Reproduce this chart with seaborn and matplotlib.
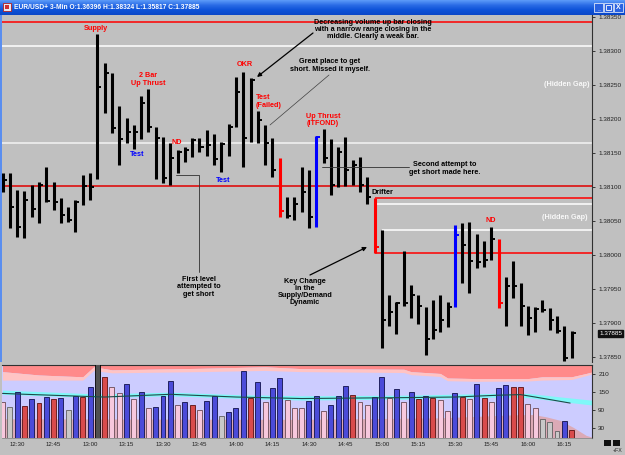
import numpy as np
import pandas as pd
import seaborn as sns
import matplotlib.pyplot as plt
from matplotlib.lines import Line2D
from matplotlib.patches import Rectangle
from matplotlib.colors import LinearSegmentedColormap
from matplotlib.transforms import blended_transform_factory

W, H = 625, 455

# 3-min EUR/USD bars
highs = [1.38121, 1.38121, 1.38096, 1.38094, 1.38103, 1.38107, 1.38129, 1.38107, 1.38084, 1.38071,
         1.38081, 1.38118, 1.38121, 1.38325, 1.38282, 1.38268, 1.38219, 1.38201, 1.38191, 1.38234,
         1.38244, 1.38188, 1.38174, 1.38165, 1.38154, 1.38159, 1.38172, 1.38172, 1.38184, 1.38178,
         1.38166, 1.38193, 1.38262, 1.38269, 1.38260, 1.38212, 1.38191, 1.38172, 1.38143, 1.38085,
         1.38085, 1.38129, 1.38125, 1.38175, 1.38185, 1.38171, 1.38159, 1.38174, 1.38140, 1.38144,
         1.38115, 1.38084, 1.38037, 1.37941, 1.37931, 1.38006, 1.37956, 1.37941, 1.37924, 1.37934,
         1.37941, 1.37931, 1.38044, 1.38047, 1.38049, 1.38031, 1.38021, 1.38041, 1.38024, 1.37968,
         1.37991, 1.37959, 1.37925, 1.37924, 1.37934, 1.37922, 1.37910, 1.37896, 1.37888]
lows = [1.38093, 1.38040, 1.38026, 1.38025, 1.38056, 1.38047, 1.38078, 1.38066, 1.38047, 1.38049,
        1.38034, 1.38074, 1.38081, 1.38112, 1.38209, 1.38179, 1.38132, 1.38165, 1.38156, 1.38171,
        1.38181, 1.38112, 1.38106, 1.38103, 1.38121, 1.38137, 1.38144, 1.38151, 1.38146, 1.38132,
        1.38122, 1.38146, 1.38188, 1.38129, 1.38166, 1.38165, 1.38132, 1.38115, 1.38056, 1.38054,
        1.38051, 1.38063, 1.38040, 1.38041, 1.38135, 1.38088, 1.38100, 1.38101, 1.38103, 1.38093,
        1.38075, 1.38003, 1.37863, 1.37896, 1.37884, 1.37926, 1.37907, 1.37899, 1.37853, 1.37877,
        1.37887, 1.37894, 1.37924, 1.37959, 1.37944, 1.37981, 1.37983, 1.37993, 1.37922, 1.37896,
        1.37937, 1.37896, 1.37882, 1.37887, 1.37916, 1.37890, 1.37885, 1.37844, 1.37849]
closes = [1.38110, 1.38071, 1.38041, 1.38081, 1.38068, 1.38103, 1.38079, 1.38078, 1.38059, 1.38051,
          1.38078, 1.38101, 1.38100, 1.38247, 1.38268, 1.38187, 1.38171, 1.38181, 1.38181, 1.38224,
          1.38188, 1.38172, 1.38113, 1.38143, 1.38151, 1.38154, 1.38169, 1.38159, 1.38162, 1.38141,
          1.38163, 1.38188, 1.38240, 1.38172, 1.38257, 1.38198, 1.38165, 1.38125, 1.38065, 1.38057,
          1.38075, 1.38093, 1.38056, 1.38174, 1.38143, 1.38103, 1.38151, 1.38125, 1.38132, 1.38103,
          1.38085, 1.38012, 1.37904, 1.37916, 1.37929, 1.37929, 1.37941, 1.37926, 1.37877, 1.37890,
          1.37904, 1.37924, 1.38029, 1.38015, 1.37991, 1.37990, 1.37993, 1.38024, 1.37929, 1.37954,
          1.37954, 1.37926, 1.37907, 1.37921, 1.37919, 1.37904, 1.37888, 1.37849, 1.37885]
red_bars = [38, 51, 68]
blue_bars = [43, 62]

volume = [117, 101, 149, 104, 126, 114, 133, 128, 130, 90,
          137, 134, 168, 245, 200, 168, 148, 176, 126, 151,
          99, 102, 138, 188, 106, 119, 109, 92, 122, 137,
          70, 83, 99, 220, 131, 184, 119, 165, 198, 124,
          97, 97, 121, 137, 87, 107, 139, 169, 140, 118,
          106, 135, 200, 132, 159, 118, 151, 128, 138, 130,
          124, 87, 148, 133, 128, 176, 130, 118, 165, 174,
          168, 168, 111, 99, 61, 51, 20, 56, 24]
# u = up (blue), d = down (red), p = weak (pink), n = neutral (grey), x = climax
vol_kind = ["p", "n", "u", "d", "u", "d", "u", "d", "u", "n",
            "u", "d", "u", "x", "d", "p", "p", "u", "p", "u",
            "p", "u", "u", "u", "p", "u", "d", "p", "u", "u",
            "n", "u", "u", "u", "d", "u", "p", "u", "u", "p",
            "p", "p", "u", "u", "p", "u", "u", "u", "d", "p",
            "p", "u", "u", "p", "u", "p", "u", "d", "u", "d",
            "p", "p", "u", "d", "p", "u", "d", "p", "u", "u",
            "d", "d", "p", "p", "n", "n", "n", "u", "d"]

# volume panel envelopes (bar index, value)
env_x = [0, 5, 11, 12.5, 15, 27, 36, 41, 55, 56, 60, 61, 65, 72, 74, 78, 80, 81]
env_red = [218, 207, 201, 234, 224, 229, 234, 228, 226, 218, 212, 197, 195, 195, 201, 201, 212, 218]
env_pink = [190, 190, 190, 222, 214, 218, 222, 218, 215, 208, 202, 188, 186, 187, 190, 192, 205, 212]
cyan_x = [0, 13, 23, 32, 41, 55, 68, 72, 77, 81]
cyan_lo = [143, 132, 138, 130, 124, 127, 134, 132, 118, 107]
cyan_hi = [157, 144, 150, 142, 138, 140, 146, 146, 133, 123]
ma_x = [0, 2, 9, 14, 23, 32, 41, 55, 62, 68, 71, 73, 77.8]
ma_vals = [146, 144, 138, 134, 143, 134, 129, 132, 134, 140, 142, 134, 114]
low_x = [0, 40, 60, 70, 72.8, 74.6, 76.4, 78.2, 80, 81]
low_top = [62, 60, 65, 75, 76, 68, 57, 34, 7, 0]

full_levels = [1.38343, 1.38307, 1.38165, 1.38101]
full_level_colors = ["#ff0000", "#ffffff", "#f4f4f4", "#e00000"]
gap_levels = [1.38084, 1.38075, 1.38037, 1.38003]
gap_starts = [51, 51, 52, 51]
gap_colors = ["#ff0000", "#ffffff", "#ffffff", "#ff0000"]

price_ticks = [1.37850, 1.37900, 1.37950, 1.38000, 1.38050, 1.38100,
               1.38150, 1.38200, 1.38250, 1.38300, 1.38350]
vol_ticks = [30, 90, 150, 210]
time_labels = ["12:30", "12:45", "13:00", "13:15", "13:30", "13:45", "14:00", "14:15",
               "14:30", "14:45", "15:00", "15:15", "15:30", "15:45", "16:00", "16:15"]

TITLE = "EUR/USD+ 3-Min O:1.36396 H:1.38324 L:1.35817 C:1.37885"

sns.set_style("white")
plt.rcParams["font.family"] = ["Liberation Sans", "DejaVu Sans"]

n = len(highs)
idx = np.arange(n)
times = pd.date_range("2010-01-04 12:24", periods=n, freq="3min").strftime("%H:%M")
XL = (-0.07, 80.8)
BG = "#c0c0c0"


def box(x0, y0, x1, y1):
    return [x0 / W, 1 - y1 / H, (x1 - x0) / W, (y1 - y0) / H]


def P(x, y):
    return (x / W, 1 - y / H)


fig = plt.figure(figsize=(W / 100, H / 100), dpi=100)
fig.patch.set_facecolor(BG)

# ---- price panel ----
ax = fig.add_axes(box(2, 15, 592, 362))
ax.set_facecolor(BG)
ax.set_xlim(*XL)
ax.set_ylim(1.37843, 1.38353)

ax.hlines(full_levels, XL[0], XL[1], colors=full_level_colors, lw=1.1, zorder=1)
ax.hlines(gap_levels, gap_starts, XL[1], colors=gap_colors, lw=1.1, zorder=1)

bar_cols = ["#000000"] * n
for i in red_bars:
    bar_cols[i] = "#ff0000"
for i in blue_bars:
    bar_cols[i] = "#0000ff"
ax.vlines(idx, lows, highs, colors=bar_cols, lw=2.2, zorder=3)
ax.hlines(closes, idx, idx + 0.55, colors=bar_cols, lw=1.4, zorder=3)

ax.yaxis.tick_right()
ax.set_yticks(price_ticks)
ax.set_yticklabels([f"{p:.5f}" for p in price_ticks])
ax.tick_params(axis="y", labelsize=4.6, length=2.5, width=0.6, pad=2, colors="#202020")
ax.tick_params(axis="x", bottom=False, labelbottom=False)
for s in ["top", "left", "bottom"]:
    ax.spines[s].set_visible(False)
ax.spines["right"].set_color("#303030")
ax.spines["right"].set_linewidth(0.8)

tr = blended_transform_factory(ax.transAxes, ax.transData)
ax.text(1.012, closes[-1], f"{closes[-1]:.5f}", transform=tr, fontsize=4.6, color="white",
        va="center", ha="left", zorder=6,
        bbox=dict(facecolor="#101010", edgecolor="#101010", pad=0.6))

# ---- volume panel ----
axv = fig.add_axes(box(2, 365, 592, 437.5))
axv.set_facecolor("#ccccff")
axv.fill_between(env_x, env_red, 260, color="#ff8a8a", lw=0, zorder=0)
axv.fill_between(env_x, env_pink, env_red, color="#ffc4c4", lw=0, zorder=0)
axv.fill_between(low_x, 0, low_top, color="#dcaab6", lw=0, zorder=0)
axv.fill_between(cyan_x, cyan_lo, cyan_hi, color="#7ff8f8", lw=0, zorder=0)

pal = {"u": "#3434f0", "d": "#f03434", "p": "#ffc0dc", "n": "#c8c8c8", "x": "#505050"}
edge = {"u": "#10104a", "d": "#5a1010", "p": "#6a4a55", "n": "#606060", "x": "#000000"}
vol_df = pd.DataFrame({"bar": idx, "volume": volume, "kind": vol_kind})
sns.barplot(data=vol_df, x="bar", y="volume", hue="kind", palette=pal, native_scale=True,
            dodge=False, width=0.68, errorbar=None, legend=False, ax=axv, zorder=3)
for p in axv.patches:
    i = int(round(p.get_x() + p.get_width() / 2))
    if 0 <= i < n:
        p.set_edgecolor(edge[vol_kind[i]])
        p.set_linewidth(0.6)

sns.lineplot(x=ma_x, y=ma_vals, ax=axv, color="#1e4a48", lw=0.8, zorder=4)

axv.set_xlim(*XL)
axv.set_ylim(0, 240)
axv.yaxis.tick_right()
axv.set_yticks(vol_ticks)
axv.set_yticklabels([str(v) for v in vol_ticks])
tick_pos = [i for i, t in enumerate(times) if t in time_labels]
axv.set_xticks(tick_pos)
axv.set_xticklabels(time_labels)
axv.tick_params(axis="y", labelsize=4.6, length=2.5, width=0.6, pad=2, colors="#202020")
axv.tick_params(axis="x", labelsize=4.4, length=2, width=0.6, pad=1.5, colors="#202020")
axv.set_xlabel("")
axv.set_ylabel("")
axv.spines["left"].set_visible(False)
for s in ["top", "right"]:
    axv.spines[s].set_color("#303030")
    axv.spines[s].set_linewidth(0.8)
axv.spines["bottom"].set_color("#808080")
axv.spines["bottom"].set_linewidth(0.5)

# ---- annotations ----
txt = dict(fontsize=5.2, fontweight="bold", ha="center", va="center", linespacing=1.05)
labels = [
    ("Supply", 96, 28, "#ff0000", "center"),
    ("2 Bar\nUp Thrust", 148, 79.5, "#ff0000", "center"),
    ("Test", 137, 155, "#0000ff", "center"),
    ("ND", 177, 143, "#ff0000", "center"),
    ("Test", 223, 181, "#0000ff", "center"),
    ("OKR", 245, 64, "#ff0000", "center"),
    ("Test\n(Failed)", 256, 101.5, "#ff0000", "left"),
    ("Up Thrust\n(ITFOND)", 323, 120, "#ff0000", "center"),
    ("Drifter", 372, 193, "#000000", "left"),
    ("ND", 491, 220, "#ff0000", "center"),
    ("(Hidden Gap)", 567, 85, "#f8f8f8", "center"),
    ("(Hidden Gap)", 565, 217, "#f8f8f8", "center"),
    ("Decreasing volume up bar closing\nwith a narrow range closing in the\nmiddle. Clearly a weak bar.",
     373, 29.5, "#000000", "center"),
    ("Great place to get\nshort. Missed it myself.", 330, 65.5, "#000000", "center"),
    ("Second attempt to\nget short made here.", 445, 168.5, "#000000", "center"),
    ("First level\nattempted to\nget short", 198.5, 287, "#000000", "center"),
    ("Key Change\nin the\nSupply/Demand\nDynamic", 305, 292, "#000000", "center"),
]
for s, x, y, c, ha in labels:
    kw = dict(txt)
    kw["ha"] = ha
    fig.text(*P(x, y), s, color=c, zorder=7, **kw)

arrow = dict(arrowstyle="-|>", color="black", lw=0.9, mutation_scale=6, shrinkA=0, shrinkB=0)
ax.annotate("", xy=P(257, 77), xytext=P(313, 33), xycoords="figure fraction",
            textcoords="figure fraction", arrowprops=arrow, annotation_clip=False)
ax.annotate("", xy=P(367, 247), xytext=P(310, 275), xycoords="figure fraction",
            textcoords="figure fraction", arrowprops=arrow, annotation_clip=False)


def fig_line(xs, ys, color="#303030", lw=0.6):
    fx = [x / W for x in xs]
    fy = [1 - y / H for y in ys]
    fig.add_artist(Line2D(fx, fy, color=color, lw=lw, transform=fig.transFigure, zorder=6))


fig_line([329, 270], [75, 125], color="#404040", lw=0.5)
fig_line([322, 409], [167, 167])
fig_line([176, 199, 199], [175, 175, 272])

# ---- window chrome ----
axt = fig.add_axes(box(0, 0, 625, 15))
xp = LinearSegmentedColormap.from_list("xp", ["#5b9af8", "#2a6ce6", "#0d52d8", "#0a47c8"])
axt.imshow(np.linspace(0, 1, 30).reshape(-1, 1), aspect="auto", cmap=xp, extent=[0, W, 15, 0])
axt.set_xlim(0, W)
axt.set_ylim(15, 0)
axt.axis("off")
axt.add_patch(Rectangle((3, 3), 8, 8, facecolor="#e8e8f0", edgecolor="#b02020", lw=0.6))
axt.add_patch(Rectangle((5, 5), 4, 4, facecolor="#d03030", lw=0))
axt.text(14, 7.5, TITLE, color="white", fontsize=4.8, fontweight="bold", va="center", ha="left")
for bx in [594, 604, 614]:
    axt.add_patch(Rectangle((bx, 3), 9, 9, facecolor="#2a62e0", edgecolor="white", lw=0.5))
axt.text(598.5, 9, "_", color="white", fontsize=4, ha="center", va="center", fontweight="bold")
axt.add_patch(Rectangle((606, 5), 5, 5, facecolor="none", edgecolor="white", lw=0.6))
axt.text(618.5, 7.5, "X", color="white", fontsize=5, ha="center", va="center", fontweight="bold")

fig.add_artist(Rectangle(P(0, 362), 2 / W, 347 / H, transform=fig.transFigure,
                         facecolor="#5a8ef0", lw=0))
fig.add_artist(Rectangle(P(604, 446), 7 / W, 6 / H, transform=fig.transFigure,
                         facecolor="#101010", lw=0))
fig.add_artist(Rectangle(P(613, 446), 7 / W, 6 / H, transform=fig.transFigure,
                         facecolor="#101010", lw=0))
fig.text(*P(618, 451), "+FX", fontsize=3.8, ha="center", va="center", color="#202020")

fig.savefig("out.png", dpi=100, facecolor=fig.get_facecolor())
